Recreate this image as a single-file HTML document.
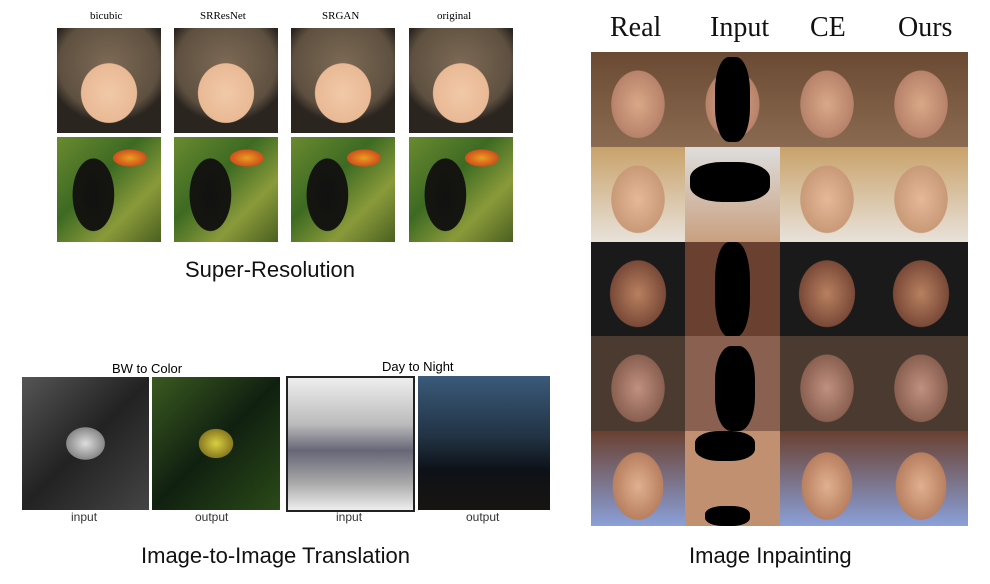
<!DOCTYPE html>
<html><head><meta charset="utf-8"><style>
body{margin:0;width:990px;height:584px;background:#fff;position:relative;overflow:hidden;font-family:"Liberation Sans",sans-serif}
.a{position:absolute}
.s{font-family:"Liberation Serif",serif}
.baby{background:radial-gradient(ellipse 38% 40% at 50% 62%,#f1c9a8 0,#e9b995 70%,transparent 72%),radial-gradient(ellipse 60% 55% at 50% 35%,#7d6a55 0,#5e5040 80%,#2b2520 100%)}
.tou{background:radial-gradient(ellipse 22% 38% at 35% 55%,#111 0,#151510 90%,transparent 92%),radial-gradient(ellipse 20% 10% at 70% 20%,#e8a020 0,#d0501c 80%,transparent 82%),linear-gradient(135deg,#6a8a30,#3d6a22 40%,#8a9a3a 70%,#4a6020)}
.face{background:radial-gradient(ellipse 40% 50% at 50% 55%,#d9a888 0,#b7826a 70%,transparent 72%),linear-gradient(#6a4a32,#8a6a50)}
.t{font-size:22px;color:#111}
.h{font-size:28px;color:#111}
.sm{font-size:12px;color:#333}
</style></head><body>
<div class="a s" style="left:90px;top:10px;font-size:11px">bicubic</div>
<div class="a s" style="left:200px;top:10px;font-size:11px">SRResNet</div>
<div class="a s" style="left:322px;top:10px;font-size:11px">SRGAN</div>
<div class="a s" style="left:437px;top:10px;font-size:11px">original</div>
<div class="a baby" style="left:57px;top:28px;width:104px;height:105px"></div>
<div class="a baby" style="left:174px;top:28px;width:104px;height:105px"></div>
<div class="a baby" style="left:291px;top:28px;width:104px;height:105px"></div>
<div class="a baby" style="left:409px;top:28px;width:104px;height:105px"></div>
<div class="a tou" style="left:57px;top:137px;width:104px;height:105px"></div>
<div class="a tou" style="left:174px;top:137px;width:104px;height:105px"></div>
<div class="a tou" style="left:291px;top:137px;width:104px;height:105px"></div>
<div class="a tou" style="left:409px;top:137px;width:104px;height:105px"></div>
<div class="a t" style="left:185px;top:257px">Super-Resolution</div>

<div class="a" style="left:112px;top:361px;font-size:13px">BW to Color</div>
<div class="a" style="left:382px;top:359px;font-size:13px">Day to Night</div>
<div class="a" style="left:22px;top:377px;width:127px;height:133px;background:radial-gradient(ellipse 25% 20% at 50% 50%,#ddd,#888 60%,transparent 62%),linear-gradient(135deg,#555,#222 50%,#444)"></div>
<div class="a" style="left:152px;top:377px;width:128px;height:133px;background:radial-gradient(ellipse 22% 18% at 50% 50%,#d8d040,#8a7a20 60%,transparent 62%),linear-gradient(135deg,#3a5a20,#102010 50%,#2a4a18)"></div>
<div class="a" style="left:286px;top:376px;width:125px;height:132px;border:2px solid #222;background:linear-gradient(#eee,#bbb 35%,#667 55%,#aaa 80%,#eee)"></div>
<div class="a" style="left:418px;top:376px;width:132px;height:134px;background:linear-gradient(#3a5a7a,#223344 45%,#0d1218 70%,#181410)"></div>
<div class="a sm" style="left:71px;top:510px">input</div>
<div class="a sm" style="left:195px;top:510px">output</div>
<div class="a sm" style="left:336px;top:510px">input</div>
<div class="a sm" style="left:466px;top:510px">output</div>
<div class="a t" style="left:141px;top:543px">Image-to-Image Translation</div>

<div class="a s h" style="left:610px;top:12px">Real</div>
<div class="a s h" style="left:710px;top:12px">Input</div>
<div class="a s h" style="left:810px;top:12px">CE</div>
<div class="a s h" style="left:898px;top:12px">Ours</div>
<div class="a" style="left:591px;top:52px;width:377px;height:474px;display:grid;grid-template-columns:repeat(4,1fr);grid-template-rows:repeat(5,1fr)">
<div class="face"></div><div class="face" style="position:relative"><div class="a" style="left:30px;top:5px;width:35px;height:85px;background:#000;border-radius:40%"></div></div><div class="face"></div><div class="face"></div>
<div class="face" style="background:radial-gradient(ellipse 40% 50% at 50% 55%,#e6b898,#c99a78 70%,transparent 72%),linear-gradient(#c9a26a,#e8e2da)"></div><div class="face" style="position:relative;background:linear-gradient(#ddd,#c9a080)"><div class="a" style="left:5px;top:15px;width:80px;height:40px;background:#000;border-radius:40%"></div></div><div class="face" style="background:radial-gradient(ellipse 40% 50% at 50% 55%,#e6b898,#c99a78 70%,transparent 72%),linear-gradient(#c9a26a,#e8e2da)"></div><div class="face" style="background:radial-gradient(ellipse 40% 50% at 50% 55%,#e6b898,#c99a78 70%,transparent 72%),linear-gradient(#c9a26a,#e8e2da)"></div>
<div class="face" style="background:radial-gradient(ellipse 42% 50% at 50% 55%,#b88060,#7a4a38 70%,transparent 72%),#1a1a1a"></div><div class="face" style="position:relative;background:#6a4030"><div class="a" style="left:30px;top:0;width:35px;height:95px;background:#000;border-radius:40%"></div></div><div class="face" style="background:radial-gradient(ellipse 42% 50% at 50% 55%,#b88060,#7a4a38 70%,transparent 72%),#1a1a1a"></div><div class="face" style="background:radial-gradient(ellipse 42% 50% at 50% 55%,#b88060,#7a4a38 70%,transparent 72%),#1a1a1a"></div>
<div class="face" style="background:radial-gradient(ellipse 40% 50% at 50% 55%,#c09080,#8a6050 70%,transparent 72%),#4a3a30"></div><div class="face" style="position:relative;background:#8a6050"><div class="a" style="left:30px;top:10px;width:40px;height:85px;background:#000;border-radius:40%"></div></div><div class="face" style="background:radial-gradient(ellipse 40% 50% at 50% 55%,#c09080,#8a6050 70%,transparent 72%),#4a3a30"></div><div class="face" style="background:radial-gradient(ellipse 40% 50% at 50% 55%,#c09080,#8a6050 70%,transparent 72%),#4a3a30"></div>
<div class="face" style="background:radial-gradient(ellipse 38% 50% at 50% 58%,#e0b090,#b88060 70%,transparent 72%),linear-gradient(#6a4030,#8aa0d8)"></div><div class="face" style="position:relative;background:#c09070"><div class="a" style="left:10px;top:0;width:60px;height:30px;background:#000;border-radius:40%"></div><div class="a" style="left:20px;top:75px;width:45px;height:20px;background:#000;border-radius:40%"></div></div><div class="face" style="background:radial-gradient(ellipse 38% 50% at 50% 58%,#e0b090,#b88060 70%,transparent 72%),linear-gradient(#6a4030,#8aa0d8)"></div><div class="face" style="background:radial-gradient(ellipse 38% 50% at 50% 58%,#e0b090,#b88060 70%,transparent 72%),linear-gradient(#6a4030,#8aa0d8)"></div>
</div>
<div class="a t" style="left:689px;top:543px">Image Inpainting</div>
</body></html>
